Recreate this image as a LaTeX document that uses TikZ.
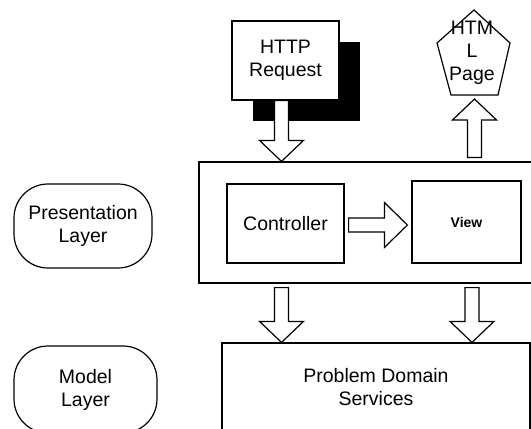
\documentclass[tikz,border=0pt]{standalone}
\usepackage{fontspec}
\setmainfont{Liberation Sans}
\usetikzlibrary{calc, shadows}

\tikzset{
  box/.style={draw, line width=1.2pt, fill=white, align=center, inner sep=0pt},
  layerbox/.style={box, rounded corners=34pt},
  fatarrow/.style={draw, fill=white, line width=1.2pt, line join=miter},
}

% hollow block arrow, vertical: stem at x of #1, tip at y of #2
\newcommand{\vfat}[2]{%
  \draw[fatarrow] let \p1=(#1), \p2=(#2), \n1={ifthenelse(\y2>\y1,1,-1)*21} in
    ({\x1-7pt},\y1) -- ({\x1-7pt},{\y2-\n1}) -- ({\x1-22pt},{\y2-\n1}) -- (\x1,\y2)
    -- ({\x1+22pt},{\y2-\n1}) -- ({\x1+7pt},{\y2-\n1}) -- ({\x1+7pt},\y1) -- cycle;}
% same, horizontal: stem at y of #1, tip at x of #2
\newcommand{\hfat}[2]{%
  \draw[fatarrow] let \p1=(#1), \p2=(#2), \n1={ifthenelse(\x2>\x1,1,-1)*23} in
    (\x1,{\y1-7pt}) -- ({\x2-\n1},{\y1-7pt}) -- ({\x2-\n1},{\y1-22.5pt}) -- (\x2,\y1)
    -- ({\x2-\n1},{\y1+22.5pt}) -- ({\x2-\n1},{\y1+7pt}) -- (\x1,{\y1+7pt}) -- cycle;}

\begin{document}
\begin{tikzpicture}[x=1pt, y=-1pt, font=\fontsize{19.5}{23}\selectfont]
\useasboundingbox (0,0) rectangle (531,429);
\clip (0,0) rectangle (531,429);

% layer labels
\node[layerbox, minimum width=138, minimum height=84] (preslayer) at (83,226) {Presentation\\Layer};
\node[layerbox, minimum width=143, minimum height=87] (modellayer) at (85.5,389.5) {Model\\Layer};

% presentation tier
\node[box, minimum width=346, minimum height=121] (pres) at (372,222.5) {};
\node[box, minimum width=117, minimum height=79] (ctrl) at (285.5,223.5) {Controller};
\node[box, minimum width=109, minimum height=82, font=\fontsize{14}{16}\selectfont\bfseries] (view) at (466.5,222) {View};

% request with its hard shadow
\node[box, minimum width=107, minimum height=79,
  drop shadow={fill=black, opacity=1, shadow xshift=21pt, shadow yshift=-21pt}] (http) at (285.5,60.5) {HTTP\\Request};

% page sent back
\coordinate (pgbot) at (474.5,95);
\draw[line width=1.2pt, fill=white] (474,10) -- (510,43) -- (498,95) -- (451,95) -- (437,43) -- cycle;
\node[align=center, inner sep=0pt] (page) at (472,53) {HTM\\L\\Page};

% model tier
\node[box, minimum width=308, minimum height=88] (domain) at (376,387) {Problem Domain\\Services};

% block arrows
\vfat{$(http.south)+(-4,0)$}{pres.north}
\vfat{$(pres.north -| pgbot)+(0,-4)$}{$(pgbot)+(0,4)$}
\hfat{$(ctrl.east)+(4,1.5)$}{$(view.west)+(-4,0)$}
\vfat{$(http.south |- pres.south)+(-4,4)$}{domain.north}
\vfat{$(view.south |- pres.south)+(5.5,4)$}{domain.north}
\end{tikzpicture}
\end{document}
